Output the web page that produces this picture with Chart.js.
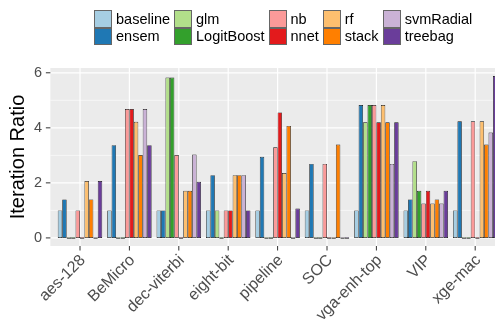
<!DOCTYPE html>
<html>
<head>
<meta charset="utf-8">
<script src="https://cdn.jsdelivr.net/npm/chart.js@4.4.0/dist/chart.umd.min.js"></script>
<style>
html, body { margin: 0; padding: 0; background: #fff; overflow: hidden; width: 495px; height: 328px; }
#wrap { position: relative; width: 515px; height: 328px; }
#legend { position: absolute; left: 94px; top: 10px; display: flex; font: 14.5px "Liberation Sans", Arial, sans-serif; color: #000; }
#legend .col { margin-right: 4px; }
#legend .item { display: flex; align-items: center; height: 17.6px; }
#legend .key { width: 16px; height: 15.6px; border: 1px solid #666; margin-right: 4px; }
</style>
</head>
<body>
<div id="wrap">
  <canvas id="chart" width="515" height="328"></canvas>
  <div id="legend"></div>
</div>
<script>
// benchmarks on the x axis
var categories = ['aes-128', 'BeMicro', 'dec-viterbi', 'eight-bit', 'pipeline', 'SOC', 'vga-enh-top', 'VIP', 'xge-mac'];

// one array per method (iteration ratio)
var baseline   = [1.00, 1.00, 1.00, 1.00, 1.00, 1.00, 1.00, 1.00, 1.00];
var ensem      = [1.40, 3.37, 1.00, 2.28, 2.95, 2.69, 4.83, 1.40, 4.24];
var glm        = [0, 0, 5.83, 1.00, 0, 0, 4.20, 2.79, 0];
var logitBoost = [0, 0, 5.83, 0, 0, 0, 4.83, 1.71, 0];
var nb         = [1.00, 4.68, 3.01, 1.00, 3.29, 2.69, 4.83, 1.25, 4.24];
var nnet       = [0, 4.68, 0, 1.00, 4.56, 0, 4.20, 1.71, 0];
var rf         = [2.07, 4.22, 1.71, 2.28, 2.36, 0, 4.83, 1.25, 4.24];
var stack      = [1.40, 3.01, 1.71, 2.28, 4.07, 3.39, 4.20, 1.40, 3.39];
var svmRadial  = [0, 4.68, 3.03, 2.28, 0, 0, 2.69, 1.25, 3.83];
var treebag    = [2.07, 3.37, 2.04, 1.00, 1.07, 0, 4.20, 1.71, 5.88];

var seriesNames = ['baseline', 'ensem', 'glm', 'LogitBoost', 'nb', 'nnet', 'rf', 'stack', 'svmRadial', 'treebag'];
var seriesData = [baseline, ensem, glm, logitBoost, nb, nnet, rf, stack, svmRadial, treebag];
var seriesColors = ['#A6CEE3', '#1F78B4', '#B2DF8A', '#33A02C', '#FB9A99', '#E31A1C', '#FDBF6F', '#FF7F00', '#CAB2D6', '#6A3D9A'];

var yTicks = [0, 2, 4, 6];
var yMinor = [1, 3, 5];

var datasets = [];
for (var i = 0; i < seriesNames.length; i++) {
    datasets.push({
        label: seriesNames[i],
        data: seriesData[i],
        backgroundColor: seriesColors[i],
        borderColor: '#111',
        borderWidth: 0.7,
        borderSkipped: false,
        minBarLength: 1.5,
        categoryPercentage: 0.9,
        barPercentage: 1.0
    });
}

// ggplot-like panel: grey background, white grid, tick marks
var panel = {
    id: 'panel',
    beforeDatasetsDraw: function(chart) {
        var ctx = chart.ctx, ca = chart.chartArea;
        var xs = chart.scales.x, ys = chart.scales.y;
        var step = (ca.right - ca.left) / categories.length;
        var ext = step * 0.1;
        var l = ca.left - ext, r = ca.right + ext;
        ctx.save();
        ctx.fillStyle = '#EBEBEB';
        ctx.fillRect(l, ca.top, r - l, ca.bottom - ca.top);
        ctx.strokeStyle = '#fff';
        ctx.lineWidth = 0.6;
        yMinor.forEach(function(v) {
            var y = ys.getPixelForValue(v);
            ctx.beginPath(); ctx.moveTo(l, y); ctx.lineTo(r, y); ctx.stroke();
        });
        ctx.lineWidth = 1.2;
        yTicks.forEach(function(v) {
            var y = ys.getPixelForValue(v);
            ctx.beginPath(); ctx.moveTo(l, y); ctx.lineTo(r, y); ctx.stroke();
        });
        categories.forEach(function(c, k) {
            var x = xs.getPixelForValue(k);
            ctx.beginPath(); ctx.moveTo(x, ca.top); ctx.lineTo(x, ca.bottom); ctx.stroke();
        });
        ctx.strokeStyle = '#333';
        ctx.lineWidth = 1;
        yTicks.forEach(function(v) {
            var y = ys.getPixelForValue(v);
            ctx.beginPath(); ctx.moveTo(l - 4.5, y); ctx.lineTo(l, y); ctx.stroke();
        });
        categories.forEach(function(c, k) {
            var x = xs.getPixelForValue(k);
            ctx.beginPath(); ctx.moveTo(x, ca.bottom); ctx.lineTo(x, ca.bottom + 4.5); ctx.stroke();
        });
        ctx.restore();
    }
};

var ctx = document.getElementById('chart').getContext('2d');
var myChart = new Chart(ctx, {
    type: 'bar',
    data: { labels: categories, datasets: datasets },
    options: {
        responsive: false,
        animation: false,
        layout: { padding: { top: 68, right: 15.1, left: 0, bottom: 0 } },
        plugins: { legend: { display: false }, tooltip: { enabled: false } },
        scales: {
            x: {
                offset: true,
                grid: { display: false, drawTicks: false },
                border: { display: false },
                ticks: {
                    autoSkip: false,
                    maxRotation: 45,
                    minRotation: 45,
                    padding: 5,
                    labelOffset: 3,
                    color: '#4D4D4D',
                    font: { family: '"Liberation Sans", Arial, sans-serif', size: 16 }
                },
                afterFit: function(scale) { scale.height = 82; }
            },
            y: {
                min: -0.294,
                max: 6.174,
                grid: { display: false, drawTicks: false },
                border: { display: false },
                afterBuildTicks: function(scale) {
                    scale.ticks = yTicks.map(function(v) { return { value: v }; });
                },
                ticks: {
                    padding: 13.3,
                    color: '#4D4D4D',
                    font: { family: '"Liberation Sans", Arial, sans-serif', size: 14.5 }
                },
                title: {
                    display: true,
                    text: 'Iteration Ratio',
                    color: '#000',
                    padding: { top: 6, bottom: 0 },
                    font: { family: '"Liberation Sans", Arial, sans-serif', size: 20 }
                },
                afterFit: function(scale) { scale.width = 55.3; }
            }
        }
    },
    plugins: [panel]
});

// legend laid out in columns of two, like the original
var legend = document.getElementById('legend');
for (var c = 0; c < seriesNames.length; c += 2) {
    var col = document.createElement('div');
    col.className = 'col';
    for (var j = c; j < c + 2; j++) {
        var item = document.createElement('div');
        item.className = 'item';
        var key = document.createElement('span');
        key.className = 'key';
        key.style.background = seriesColors[j];
        var txt = document.createElement('span');
        txt.textContent = seriesNames[j];
        item.appendChild(key);
        item.appendChild(txt);
        col.appendChild(item);
    }
    legend.appendChild(col);
}
</script>
</body>
</html>
